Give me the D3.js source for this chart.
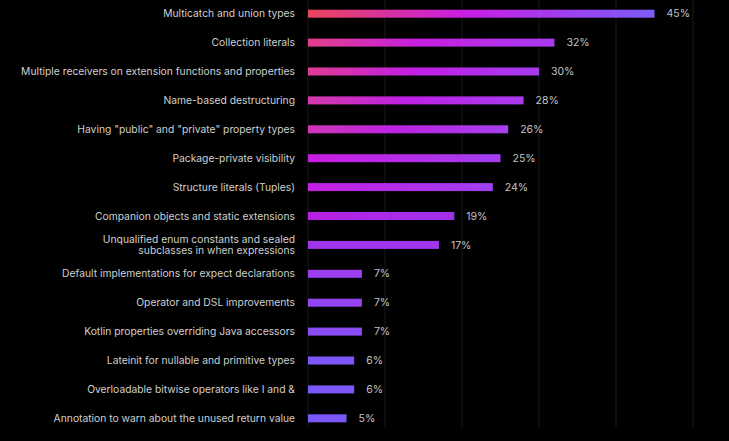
<!DOCTYPE html>
<html>
<head>
<meta charset="utf-8">
<script src="https://cdn.jsdelivr.net/npm/d3@7"></script>
<style>
  html, body { margin: 0; padding: 0; background: #000; }
  svg { display: block; }
  text { font-family: Inter, "Noto Sans", sans-serif; }
</style>
</head>
<body>
<svg id="chart" width="729" height="441"></svg>
<script>
const categories = [
  ["Multicatch and union types"],
  ["Collection literals"],
  ["Multiple receivers on extension functions and properties"],
  ["Name-based destructuring"],
  ["Having \"public\" and \"private\" property types"],
  ["Package-private visibility"],
  ["Structure literals (Tuples)"],
  ["Companion objects and static extensions"],
  ["Unqualified enum constants and sealed", "subclasses in when expressions"],
  ["Default implementations for expect declarations"],
  ["Operator and DSL improvements"],
  ["Kotlin properties overriding Java accessors"],
  ["Lateinit for nullable and primitive types"],
  ["Overloadable bitwise operators like I and &"],
  ["Annotation to warn about the unused return value"]
];
const values = [45, 32, 30, 28, 26, 25, 24, 19, 17, 7, 7, 7, 6, 6, 5];
const xTicks = [0, 10, 20, 30, 40, 50];

// palette (style): row-dependent gradient colours
const paletteRows  = [0, 1, 2, 3, 4, 5, 6, 7, 8, 9, 10, 11, 12, 13];
const paletteStart = ["#e9465a","#e0408a","#de3c94","#d63aa8","#d035b8","#c81ee0","#c41ee2","#b81ee0","#a035ec","#9a40f0","#9444f2","#8a4cf5","#7e55f8","#7b56f8"];
const paletteMid   = ["#c81ee4","#c81ee2","#c41ee4","#c020e4","#bc22e6","#b82ae8","#b42ce8","#ac2ae6","#a035ec","#9a40f0","#9444f2","#8a4cf5","#7e55f8","#7b56f8"];
const paletteEnd   = ["#7c5cf8","#a83cf0","#a63cef","#a83cf0","#a640ef","#a040f0","#a040f0","#a030e8","#a035ec","#9a40f0","#9444f2","#8a4cf5","#7e55f8","#7b56f8"];

const svg = d3.select("#chart");
const W = 729, H = 441;
svg.append("rect").attr("width", W).attr("height", H).attr("fill", "#000");

const ids = categories.map((c, i) => i);
const x = d3.scaleLinear().domain([0, 50]).range([308, 693]);
const y = d3.scaleBand().domain(ids).range([-0.75, 432.75])
  .paddingInner(0.723).paddingOuter(0.3615);

const cStart = d3.scaleLinear().domain(paletteRows).range(paletteStart).clamp(true);
const cMid   = d3.scaleLinear().domain(paletteRows).range(paletteMid).clamp(true);
const cEnd   = d3.scaleLinear().domain(paletteRows).range(paletteEnd).clamp(true);

// grid
svg.append("g").selectAll("line").data(xTicks).join("line")
  .attr("x1", d => x(d)).attr("x2", d => x(d))
  .attr("y1", 0).attr("y2", 427)
  .attr("stroke", "#1b1b1b").attr("stroke-width", 1);

// per-bar gradients
const defs = svg.append("defs");
values.forEach((v, i) => {
  const g = defs.append("linearGradient").attr("id", "g" + i)
    .attr("x1", 0).attr("y1", 0).attr("x2", 1).attr("y2", 0);
  g.append("stop").attr("offset", 0).attr("stop-color", cStart(i));
  g.append("stop").attr("offset", 0.45).attr("stop-color", cMid(i));
  g.append("stop").attr("offset", 1).attr("stop-color", cEnd(i));
});

// bars
svg.append("g").selectAll("rect").data(values).join("rect")
  .attr("x", x(0))
  .attr("y", (v, i) => y(i))
  .attr("width", v => x(v) - x(0))
  .attr("height", y.bandwidth())
  .attr("fill", (v, i) => "url(#g" + i + ")");

// value labels
svg.append("g").selectAll("text").data(values).join("text")
  .attr("x", v => x(v) + 12)
  .attr("y", (v, i) => y(i) + y.bandwidth() / 2)
  .attr("dy", "0.35em")
  .attr("fill", "#c4c4c4")
  .attr("font-size", 10.5)
  .text(v => v + "%");

// category labels
const lab = svg.append("g").selectAll("text").data(categories).join("text")
  .attr("x", x(0) - 13)
  .attr("y", (c, i) => y(i) + y.bandwidth() / 2)
  .attr("text-anchor", "end")
  .attr("fill", "#cfcfcf")
  .attr("font-size", 10.3);
lab.each(function(c) {
  const t = d3.select(this);
  const n = c.length;
  c.forEach((line, k) => {
    t.append("tspan").attr("x", x(0) - 13)
      .attr("dy", k === 0 ? ((0.35 - (n - 1) * 0.57) + "em") : "1.14em")
      .text(line);
  });
});
</script>
</body>
</html>
